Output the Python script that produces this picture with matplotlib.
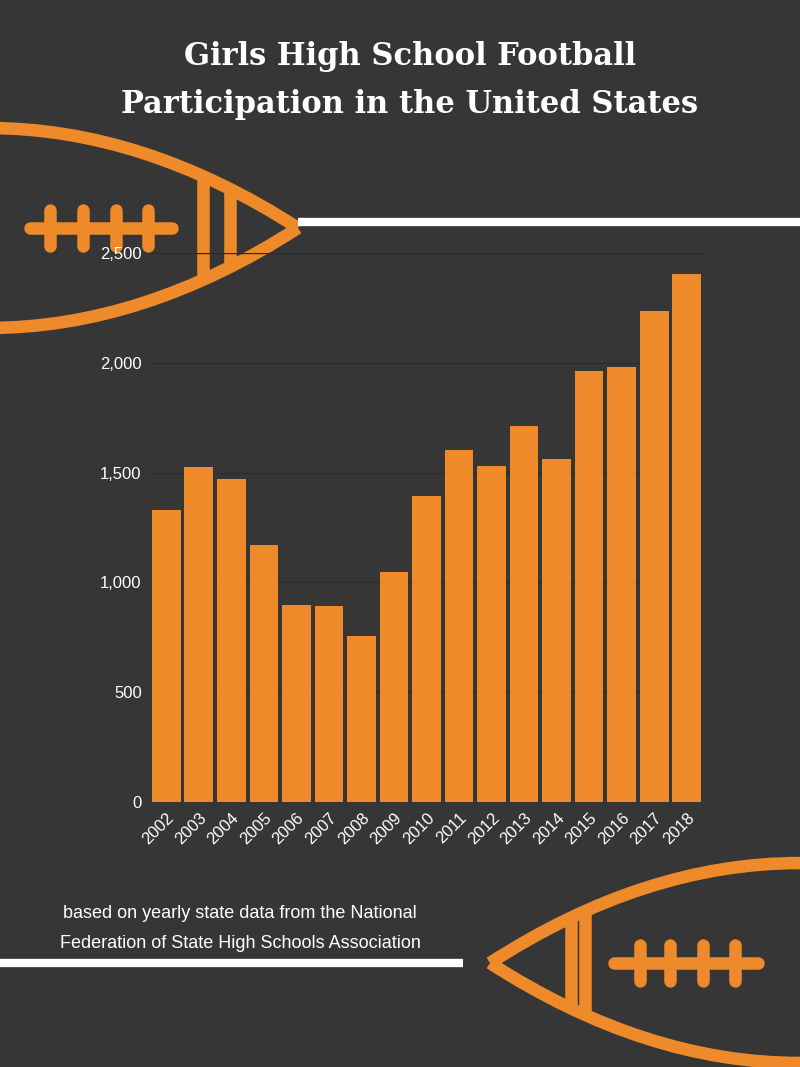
import matplotlib
matplotlib.use("Agg")
import matplotlib.pyplot as plt
from matplotlib.path import Path
from matplotlib.patches import PathPatch

years = ["2002","2003","2004","2005","2006","2007","2008","2009","2010",
         "2011","2012","2013","2014","2015","2016","2017","2018"]
participants = [1330,1525,1471,1170,897,893,756,1047,1393,
                1603,1530,1712,1562,1963,1981,2236,2404]
yticks = [0,500,1000,1500,2000,2500]
ytick_labels = ["0","500","1,000","1,500","2,000","2,500"]

BG = "#363636"
OR = "#EF8A2B"
fig = plt.figure(figsize=(8, 10.67), dpi=100, facecolor=BG)

# decoration layer in pixel coords
deco = fig.add_axes([0, 0, 1, 1])
deco.set_xlim(0, 800); deco.set_ylim(1067, 0); deco.axis("off")
deco.set_facecolor(BG)

def football(cx_tip, cy, direction, stripes, laces, lace_ticks):
    # lens with pointed tip at cx_tip, extending in 'direction' (-1: left, +1: right)
    far = cx_tip + direction * 620
    mid = (cx_tip + far) / 2
    verts = [(cx_tip, cy), (mid, cy - 200), (far, cy), (mid, cy + 200), (cx_tip, cy)]
    codes = [Path.MOVETO, Path.CURVE3, Path.CURVE3, Path.CURVE3, Path.CURVE3]
    deco.add_patch(PathPatch(Path(verts, codes), fill=False, ec=OR, lw=9))
    for sx in stripes:
        d = abs(sx - cx_tip)
        # half height of lens at that x
        t = d / 310.0
        h = 100 * (1 - (1 - t) ** 2)
        deco.plot([sx, sx], [cy - h, cy + h], color=OR, lw=9, solid_capstyle="butt")
    deco.plot(laces, [cy, cy], color=OR, lw=9, solid_capstyle="round")
    for lx in lace_ticks:
        deco.plot([lx, lx], [cy - 18, cy + 18], color=OR, lw=9, solid_capstyle="round")

football(298, 228, -1, [203, 230], [30, 172], [50, 83, 116, 148])
football(490, 963, 1, [571, 585], [614, 758], [640, 670, 703, 735])
deco.plot([298, 800], [222, 222], color="white", lw=6, solid_capstyle="butt")
deco.plot([0, 463], [963, 963], color="white", lw=6, solid_capstyle="butt")

deco.text(410, 57, "Girls High School Football", color="white", fontsize=22,
          fontweight="bold", family="DejaVu Serif", ha="center", va="center")
deco.text(410, 104, "Participation in the United States", color="white", fontsize=22,
          fontweight="bold", family="DejaVu Serif", ha="center", va="center")
deco.text(240, 913, "based on yearly state data from the National", color="white",
          fontsize=13, family="Liberation Sans", ha="center", va="center")
deco.text(240, 943, "Federation of State High Schools Association", color="white",
          fontsize=13, family="Liberation Sans", ha="center", va="center")

ax = fig.add_axes([150/800, 1 - 802/1067, 553/800, (802 - 253)/1067])
ax.patch.set_alpha(0)
x = range(len(years))
ax.bar(x, participants, width=0.88, color=OR, zorder=2)
ax.set_xlim(-0.5, len(years) - 0.5)
ax.set_ylim(0, 2500)
ax.set_yticks(yticks)
ax.set_yticklabels(ytick_labels, color="white", fontsize=12, family="Liberation Sans")
ax.set_xticks(list(x))
ax.set_xticklabels(years, rotation=45, ha="right", rotation_mode="anchor",
                   color="white", fontsize=12, family="Liberation Sans")
ax.grid(axis="y", color="#2c2c2c", lw=1, zorder=0)
for s in ax.spines.values():
    s.set_visible(False)
ax.tick_params(length=0, pad=6)

fig.savefig("out.png", dpi=100, facecolor=BG)
